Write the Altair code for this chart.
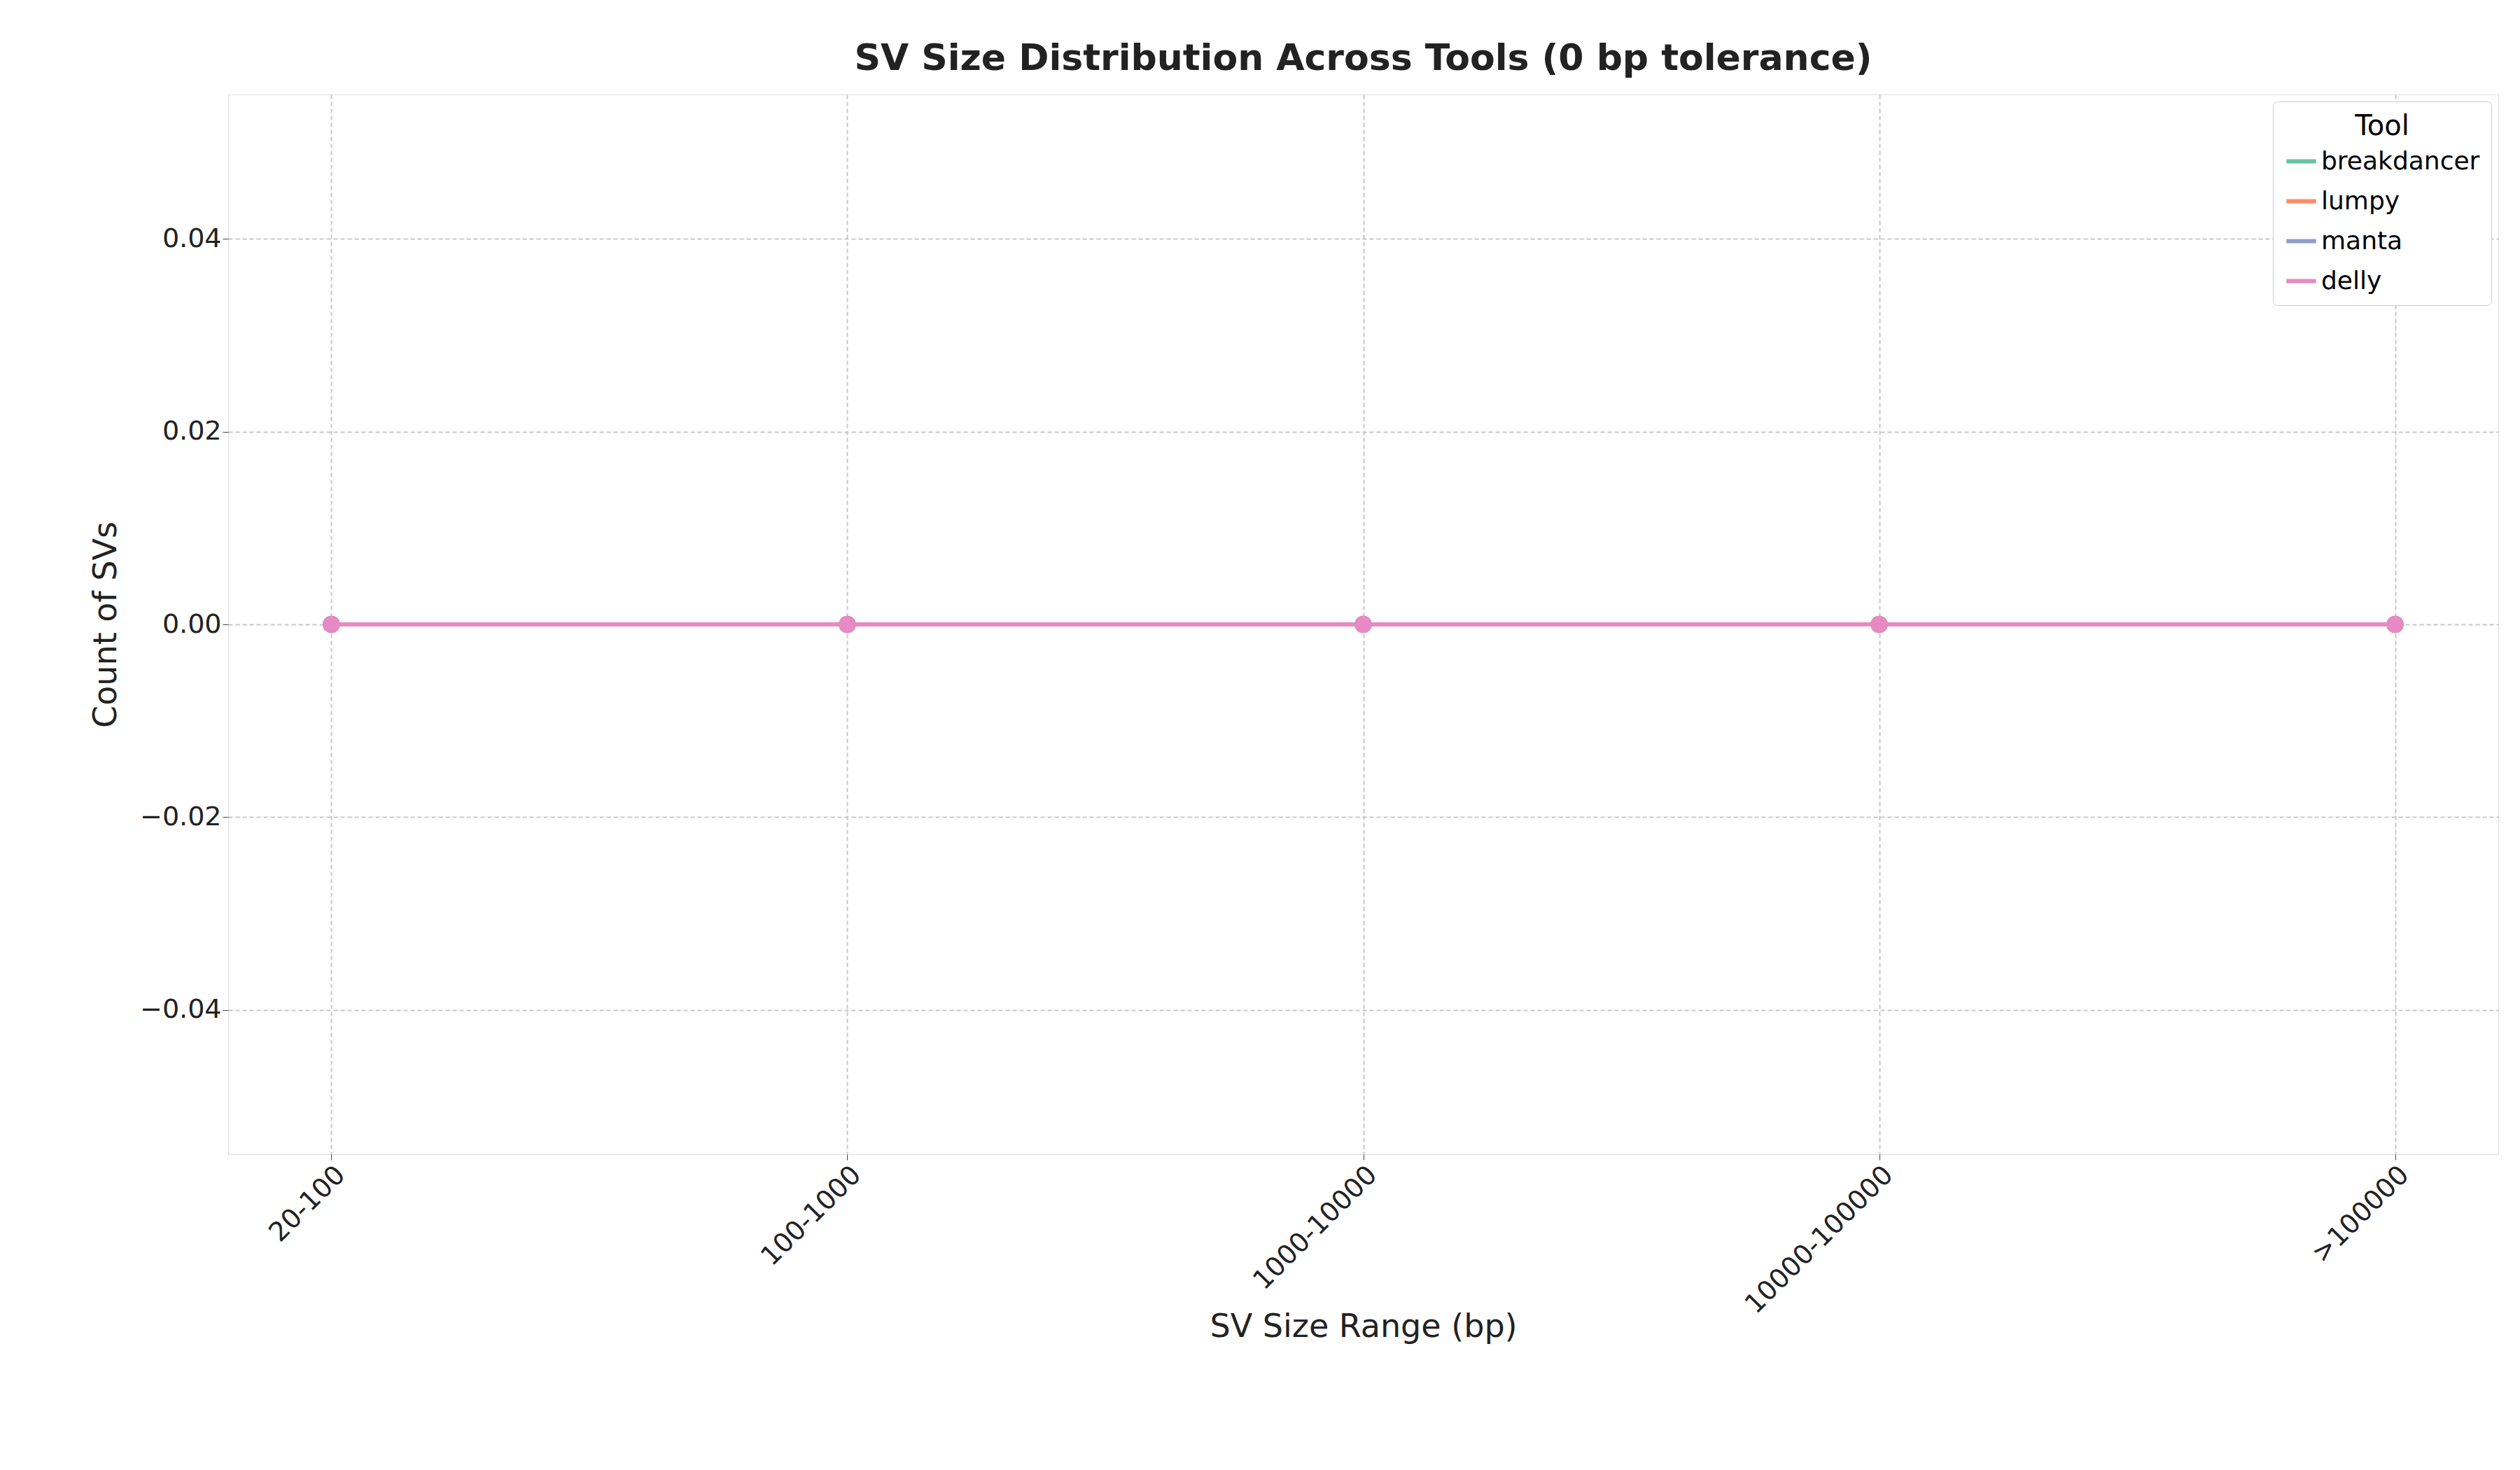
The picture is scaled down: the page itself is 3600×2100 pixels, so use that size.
import altair as alt
import pandas as pd

ranges = ["20-100", "100-1000", "1000-10000", "10000-100000", ">100000"]
tools = ["breakdancer", "lumpy", "manta", "delly"]
colors = ["#66c2a5", "#fc8d62", "#8da0cb", "#e78ac3"]
counts = {
    "breakdancer": [0, 0, 0, 0, 0],
    "lumpy": [0, 0, 0, 0, 0],
    "manta": [0, 0, 0, 0, 0],
    "delly": [0, 0, 0, 0, 0],
}

rows = []
for i, t in enumerate(tools):
    for r, v in zip(ranges, counts[t]):
        rows.append({"range": r, "tool": t, "count": v, "order": i})
df = pd.DataFrame(rows)

axis_common = dict(labelFontSize=38, titleFontSize=46, titlePadding=24,
                   titleFontWeight="normal", labelColor="#222", titleColor="#222",
                   grid=True, gridDash=[6, 4], gridColor="#c8c8c8", gridWidth=2,
                   tickSize=8, tickColor="#444", domain=False, labelLimit=0)
x = alt.X("range:N", sort=ranges, title="SV Size Range (bp)",
          scale=alt.Scale(type="point", padding=0.2),
          axis=alt.Axis(labelAngle=-45, labelAlign="right", labelBaseline="top", **axis_common))
y = alt.Y("count:Q", title="Count of SVs",
          scale=alt.Scale(domain=[-0.055, 0.055], nice=False),
          axis=alt.Axis(values=[-0.04, -0.02, 0, 0.02, 0.04], format=".2f", **axis_common))
color = alt.Color("tool:N", sort=tools, scale=alt.Scale(domain=tools, range=colors),
                  legend=alt.Legend(title="Tool", orient="top-right", titleFontSize=40,
                                    titleFontWeight="normal", labelFontSize=36, labelLimit=0,
                                    symbolType="stroke", symbolSize=1800,
                                    symbolStrokeWidth=6, titleAnchor="middle",
                                    strokeColor="#cccccc", fillColor="white",
                                    padding=16, cornerRadius=6, offset=10, rowPadding=14))

base = alt.Chart(df).encode(x=x, y=y, color=color, detail="tool:N", order="order:Q")
lines = base.mark_line(strokeWidth=6)
pts = base.mark_circle(size=600, opacity=1)

chart = alt.layer(lines, pts).properties(
    width=3243, height=1514,
    padding={"left": 120, "top": 50, "right": 10, "bottom": 10},
    title=alt.TitleParams("SV Size Distribution Across Tools (0 bp tolerance)",
                          fontSize=52, fontWeight="bold", color="#222", offset=24)
).configure_view(stroke="#cccccc", strokeWidth=4).configure(font="DejaVu Sans")

chart.save("out.html", embed_options={"renderer": "svg", "actions": False})
